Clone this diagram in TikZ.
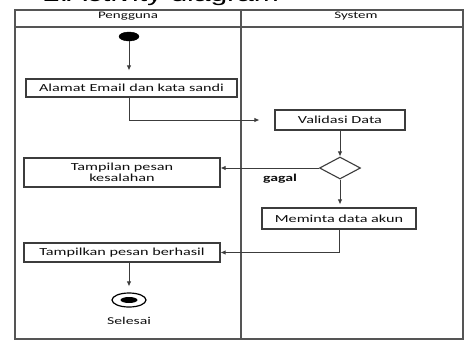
\documentclass[tikz,border=0pt]{standalone}
\usepackage{fontspec}
\setmainfont{Carlito}[FakeStretch=1.5]
\newfontfamily\titlefont{Liberation Sans}[FakeStretch=1.5]
\usetikzlibrary{arrows.meta,shapes.geometric}
\definecolor{lineC}{RGB}{60,60,60}
\definecolor{frameC}{RGB}{85,85,85}
\definecolor{textC}{RGB}{15,15,15}
\begin{document}
\begin{tikzpicture}[x=1pt,y=-1pt,
  actbox/.style={draw=lineC,line width=1.1pt,rectangle,inner sep=0pt,align=center,
    font=\fontsize{10.8}{11.5}\selectfont,text=textC},
  flow/.style={draw=lineC,line width=0.9pt,-{Latex[length=5pt,width=4.5pt]}},
  lane/.style={draw=frameC,line width=1.3pt},
  hdr/.style={font=\fontsize{10}{11}\selectfont,text=textC,inner sep=0pt},
  lbl/.style={font=\fontsize{10.5}{12}\selectfont,text=textC,inner sep=0pt}]
\useasboundingbox (0,0) rectangle (466,341);
\clip (0,0) rectangle (466,341);
\fill[white] (0,0) rectangle (466,341);
% title (cut off at top, as in the reference)
\node[anchor=base west,inner sep=0pt,font=\titlefont\fontsize{20}{22}\selectfont,text=black] (title) at (43,1.8) {\makebox[24pt][l]{2.}Activity diagram};
% swimlanes
\draw[lane] (15,10) rectangle (463,339);
\draw[lane] (15,27) -- (463,27);
\draw[lane] (241,10) -- (241,339);
\node[hdr] (h1) at (128,16.5) {Pengguna};
\node[hdr] (h2) at (356,16.5) {System};
% nodes
\node[ellipse,fill=black,draw=black,minimum width=20pt,minimum height=9pt,inner sep=0pt] (start) at (129,36.5) {};
\node[actbox,minimum width=211pt,minimum height=18pt] (a1) at (131.5,88) {Alamat Email dan kata sandi};
\node[actbox,minimum width=130pt,minimum height=20pt] (a2) at (340,120) {Validasi Data};
\node[diamond,draw=lineC,line width=1.1pt,minimum width=41pt,minimum height=22pt,inner sep=0pt,aspect=1.9] (dec) at (340,168) {};
\node[actbox,minimum width=196pt,minimum height=29pt] (a3) at (122,172.5) {Tampilan pesan\\kesalahan};
\node[lbl,font=\bfseries\fontsize{10.5}{12}\selectfont] (gagal) at (280,179) {gagal};
\node[actbox,minimum width=154pt,minimum height=21pt] (a4) at (339,218.5) {Meminta data akun};
\node[actbox,minimum width=196pt,minimum height=19pt] (a5) at (122,252.5) {Tampilkan pesan berhasil};
\node[ellipse,draw=black,line width=1.2pt,minimum width=34pt,minimum height=14pt,inner sep=0pt] (endn) at (129,300) {};
\node[ellipse,fill=black,minimum width=17pt,minimum height=6pt,inner sep=0pt] (endin) at (129,300) {};
\node[lbl] (sel) at (129,321) {Selesai};
% connectors
\draw[flow,shorten >=8pt] (start) -- (a1.north -| start);
\draw[flow,shorten >=15pt] (a1.south -| start) |- (a2.west);
\draw[flow] (a2.south -| dec) -- (dec.north);
\draw[flow] (dec.west) -- (dec.west -| a3.east);
\draw[flow,shorten >=3pt] (dec.south) -- (dec.south |- a4.north);
\draw[flow] (a4.south) |- (a5.east);
\draw[flow,shorten >=6pt] (a5.south -| endn) -- (endn.north);
\end{tikzpicture}
\end{document}
